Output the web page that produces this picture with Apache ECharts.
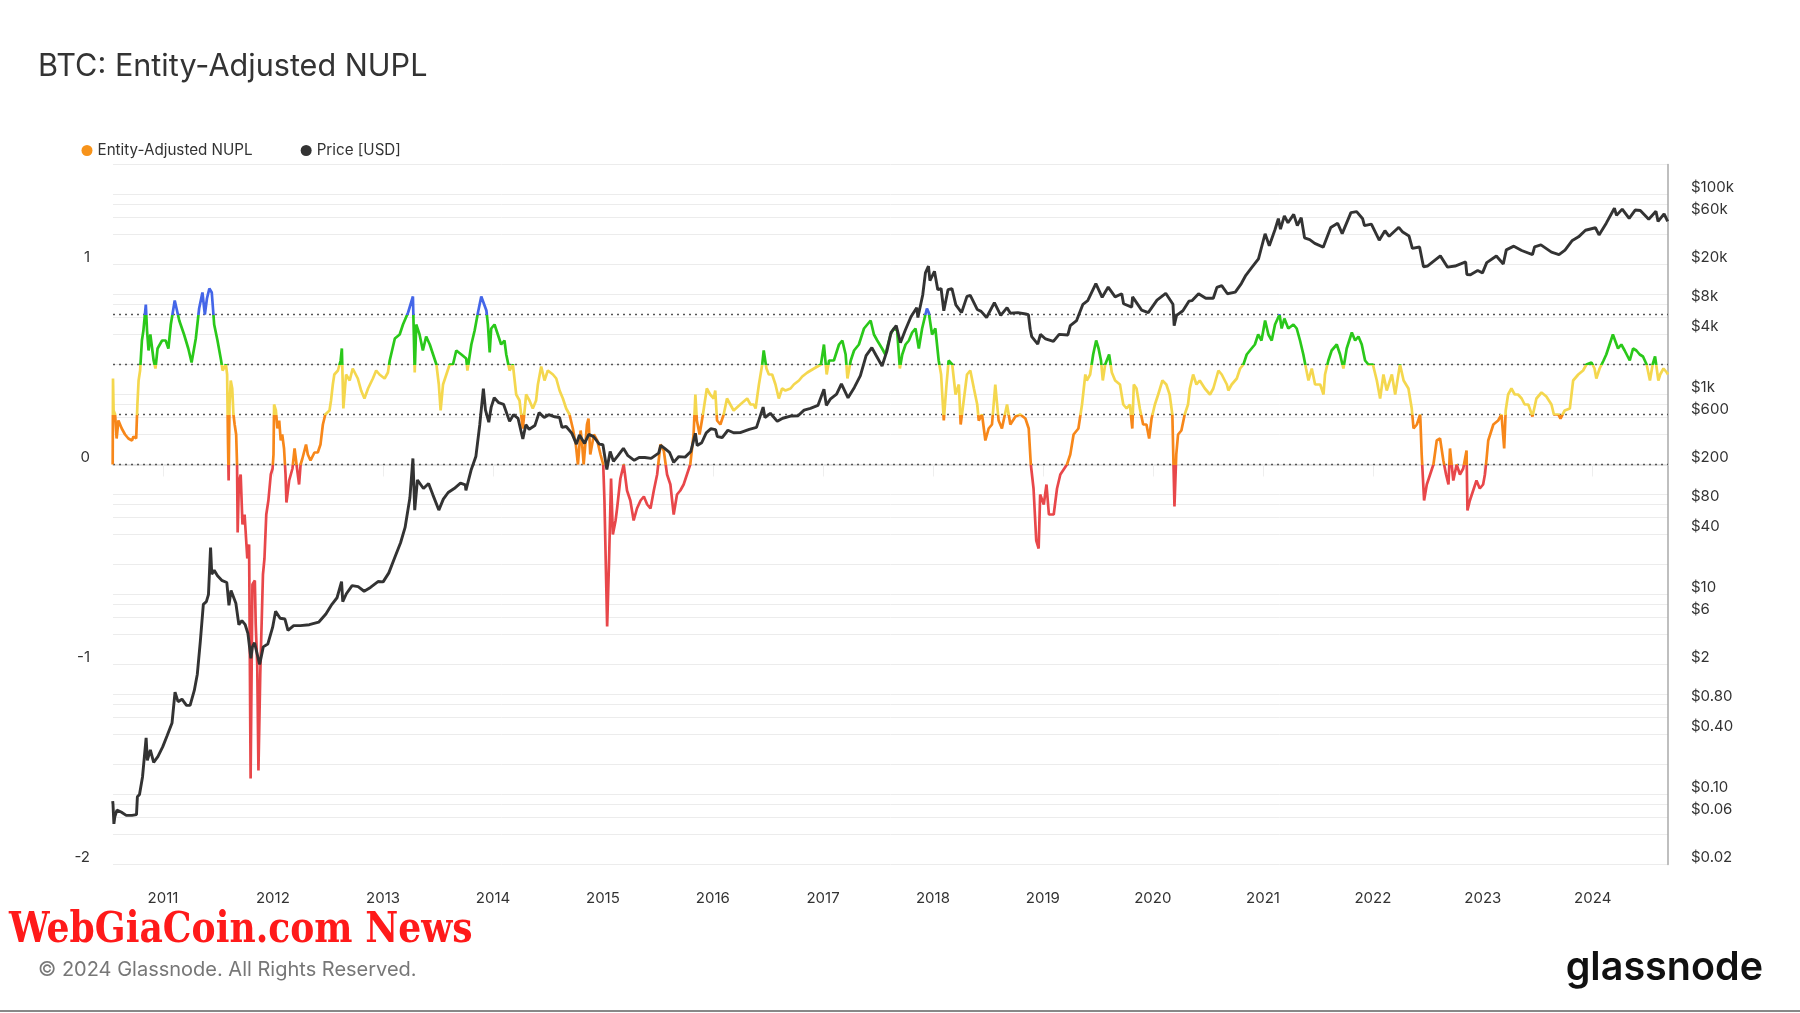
<!DOCTYPE html>
<html><head><meta charset="utf-8">
<script src="https://cdn.jsdelivr.net/npm/echarts@6/dist/echarts.min.js"></script>
<style>html,body{margin:0;padding:0;background:#fff}#c{width:1800px;height:1013px}</style>
</head><body><div id="c"></div>
<script>
// ---------- DATA ----------
const nuplDates = [
'2010-07-18','2010-07-19','2010-07-21','2010-07-26','2010-07-31','2010-08-06','2010-08-17','2010-08-28','2010-09-08','2010-09-20','2010-09-25','2010-10-04','2010-10-08','2010-10-12','2010-10-17','2010-10-23','2010-10-28','2010-11-05','2010-11-09','2010-11-14','2010-11-20','2010-12-01','2010-12-07','2010-12-14','2010-12-29',
'2011-01-10','2011-01-19','2011-01-27','2011-02-09','2011-02-24','2011-03-12','2011-03-26','2011-04-06','2011-04-20','2011-05-01','2011-05-12','2011-05-20','2011-05-27','2011-06-04','2011-06-12','2011-06-20','2011-07-01','2011-07-13','2011-07-18','2011-07-29','2011-08-02','2011-08-05','2011-08-07','2011-08-10','2011-08-14','2011-08-19','2011-08-23','2011-08-27','2011-09-01','2011-09-04','2011-09-06','2011-09-10','2011-09-16','2011-09-22','2011-09-29','2011-10-08','2011-10-14','2011-10-19','2011-10-25','2011-11-02','2011-11-05','2011-11-10','2011-11-14','2011-11-20','2011-11-29','2011-12-04','2011-12-10','2011-12-17','2011-12-25','2011-12-31',
'2012-01-03','2012-01-05','2012-01-11','2012-01-16','2012-01-22','2012-01-27','2012-02-01','2012-02-07','2012-02-12','2012-02-15','2012-02-24','2012-03-06','2012-03-13','2012-03-22','2012-03-28','2012-04-02','2012-04-08','2012-04-20','2012-04-26','2012-05-05','2012-05-18','2012-05-29','2012-06-07','2012-06-15','2012-06-23','2012-07-07','2012-07-12','2012-07-18','2012-07-23','2012-08-04','2012-08-13','2012-08-17','2012-08-22','2012-08-31','2012-09-12','2012-09-22','2012-10-09','2012-10-20','2012-10-31','2012-11-12','2012-11-28','2012-12-09','2012-12-20',
'2013-01-06','2013-01-17','2013-01-23','2013-02-09','2013-02-25','2013-03-08','2013-03-25','2013-04-10','2013-04-16','2013-04-21','2013-05-02','2013-05-13','2013-05-24','2013-06-05','2013-06-16','2013-06-27','2013-07-05','2013-07-11','2013-07-19','2013-07-30','2013-08-10','2013-08-21','2013-09-01','2013-09-18','2013-10-04','2013-10-08','2013-10-21','2013-11-01','2013-11-12','2013-11-23','2013-11-29','2013-12-10','2013-12-15','2013-12-21','2013-12-26',
'2014-01-06','2014-01-17','2014-01-28','2014-02-08','2014-02-14','2014-02-25','2014-03-08','2014-03-19','2014-03-30','2014-04-10','2014-04-21','2014-05-02','2014-05-13','2014-05-24','2014-05-30','2014-06-10','2014-06-21','2014-07-02','2014-07-19','2014-07-30','2014-08-10','2014-08-21','2014-09-01','2014-09-12','2014-09-23','2014-10-03','2014-10-10','2014-10-19','2014-10-24','2014-10-29','2014-11-09','2014-11-14','2014-11-20','2014-12-02','2014-12-13','2014-12-24',
'2015-01-02','2015-01-06','2015-01-15','2015-01-21','2015-01-28','2015-02-03','2015-02-12','2015-02-17','2015-02-28','2015-03-11','2015-03-22','2015-04-02','2015-04-13','2015-04-24','2015-05-06','2015-05-17','2015-05-28','2015-06-08','2015-06-19','2015-06-30','2015-07-11','2015-07-22','2015-08-02','2015-08-13','2015-08-24','2015-09-04','2015-09-15','2015-09-26','2015-10-07','2015-10-18','2015-10-29','2015-11-04','2015-11-09','2015-11-18','2015-11-29','2015-12-12','2015-12-23',
'2016-01-04','2016-01-09','2016-01-15','2016-01-26','2016-02-06','2016-02-17','2016-02-28','2016-03-10','2016-04-01','2016-04-24','2016-05-05','2016-05-16','2016-05-22','2016-06-02','2016-06-13','2016-06-18','2016-06-27','2016-07-05','2016-07-16','2016-07-27','2016-08-07','2016-08-18','2016-08-29','2016-09-15','2016-09-26','2016-10-13','2016-10-24','2016-11-10','2016-12-02','2016-12-25',
'2017-01-04','2017-01-13','2017-01-21','2017-02-06','2017-02-23','2017-03-06','2017-03-17','2017-03-23','2017-04-03','2017-04-14','2017-04-30','2017-05-17','2017-05-28','2017-06-08','2017-06-19','2017-06-30','2017-07-16','2017-07-27','2017-08-13','2017-08-24','2017-09-04','2017-09-13','2017-09-21','2017-10-02','2017-10-13','2017-10-24','2017-11-04','2017-11-15','2017-11-26','2017-12-07','2017-12-12','2017-12-18','2017-12-29',
'2018-01-09','2018-01-20','2018-01-28','2018-02-06','2018-02-15','2018-02-22','2018-03-06','2018-03-17','2018-03-28','2018-04-03','2018-04-14','2018-04-24','2018-05-05','2018-05-17','2018-05-28','2018-06-02','2018-06-13','2018-06-24','2018-07-05','2018-07-16','2018-07-27','2018-08-07','2018-08-18','2018-09-04','2018-09-15','2018-10-02','2018-10-18','2018-11-04','2018-11-15','2018-11-22','2018-12-01','2018-12-10','2018-12-18','2018-12-23',
'2019-01-04','2019-01-13','2019-01-21','2019-02-06','2019-02-17','2019-02-28','2019-03-22','2019-04-02','2019-04-13','2019-04-29','2019-05-11','2019-05-22','2019-05-27','2019-06-07','2019-06-17','2019-06-27','2019-07-05','2019-07-13','2019-07-19','2019-07-27','2019-08-09','2019-08-18','2019-08-29','2019-09-14','2019-09-25','2019-10-06','2019-10-17','2019-10-25','2019-10-30','2019-11-08','2019-11-19','2019-11-30','2019-12-11','2019-12-20','2019-12-28',
'2020-01-08','2020-01-19','2020-02-02','2020-02-15','2020-02-26','2020-03-06','2020-03-13','2020-03-19','2020-03-25','2020-04-05','2020-04-16','2020-04-27','2020-05-03','2020-05-14','2020-05-25','2020-06-05','2020-06-22','2020-07-09','2020-07-20','2020-08-06','2020-08-17','2020-09-03','2020-09-08','2020-09-19','2020-10-06','2020-10-17','2020-10-28','2020-11-08','2020-11-24','2020-12-05','2020-12-16','2020-12-27',
'2021-01-08','2021-01-19','2021-01-30','2021-02-10','2021-02-25','2021-03-04','2021-03-13','2021-03-26','2021-04-12','2021-04-23','2021-05-04','2021-05-15','2021-05-24','2021-06-01','2021-06-12','2021-06-23','2021-07-10','2021-07-21','2021-07-26','2021-08-06','2021-08-17','2021-09-03','2021-09-14','2021-09-25','2021-10-06','2021-10-23','2021-11-03','2021-11-14','2021-11-25','2021-12-06','2021-12-17',
'2022-01-01','2022-01-14','2022-01-25','2022-02-05','2022-02-16','2022-03-05','2022-03-16','2022-04-01','2022-04-13','2022-04-29','2022-05-10','2022-05-16','2022-05-27','2022-06-07','2022-06-12','2022-06-20','2022-06-29','2022-07-10','2022-07-21','2022-08-01','2022-08-12','2022-08-23','2022-09-01','2022-09-09','2022-09-14','2022-09-25','2022-10-06','2022-10-17','2022-10-28','2022-11-08','2022-11-11','2022-11-19','2022-11-30','2022-12-11','2022-12-22',
'2023-01-02','2023-01-08','2023-01-13','2023-01-19','2023-02-05','2023-02-21','2023-03-04','2023-03-13','2023-03-18','2023-03-26','2023-04-06','2023-04-17','2023-04-28','2023-05-10','2023-05-20','2023-06-01','2023-06-15','2023-06-28','2023-07-15','2023-07-31','2023-08-17','2023-08-25','2023-09-09','2023-09-16','2023-09-30','2023-10-17','2023-10-28','2023-11-14','2023-11-30','2023-12-11','2023-12-28',
'2024-01-07','2024-01-13','2024-01-24','2024-02-06','2024-02-15','2024-02-26','2024-03-08','2024-03-14','2024-03-25','2024-04-05','2024-04-16','2024-05-03','2024-05-14','2024-05-25','2024-06-05','2024-06-16','2024-06-28','2024-07-09','2024-07-18','2024-07-26','2024-08-06','2024-08-12','2024-08-23','2024-09-03','2024-09-07'
];
const nuplValues = [
0.00,0.43,0.27,0.25,0.13,0.22,0.18,0.15,0.13,0.12,0.14,0.13,0.30,0.42,0.47,0.62,0.67,0.80,0.67,0.57,0.65,0.52,0.48,0.58,0.62,
0.62,0.58,0.70,0.82,0.72,0.65,0.58,0.51,0.63,0.78,0.86,0.75,0.83,0.88,0.86,0.70,0.62,0.52,0.47,0.50,0.45,0.10,-0.08,0.30,0.42,0.38,0.25,0.20,0.15,0.00,-0.34,-0.09,-0.05,-0.30,-0.25,-0.47,-0.40,-1.57,-0.60,-0.58,-0.80,-1.00,-1.53,-1.05,-0.55,-0.47,-0.25,-0.18,-0.05,-0.02,
0.05,0.30,0.27,0.18,0.22,0.12,0.15,0.08,-0.05,-0.19,-0.08,-0.02,0.08,-0.03,-0.10,0.00,0.03,0.10,0.05,0.02,0.06,0.06,0.10,0.20,0.25,0.27,0.32,0.40,0.45,0.47,0.52,0.58,0.28,0.45,0.42,0.48,0.43,0.37,0.33,0.38,0.43,0.47,0.45,
0.43,0.46,0.52,0.63,0.65,0.70,0.76,0.84,0.46,0.70,0.65,0.57,0.64,0.60,0.55,0.50,0.40,0.27,0.40,0.45,0.50,0.50,0.57,0.55,0.53,0.47,0.60,0.67,0.76,0.84,0.85,0.77,0.70,0.56,0.68,
0.70,0.65,0.60,0.62,0.55,0.47,0.50,0.35,0.32,0.18,0.35,0.32,0.28,0.32,0.40,0.49,0.42,0.47,0.45,0.43,0.37,0.33,0.28,0.25,0.18,0.10,0.00,0.17,0.10,0.00,0.20,0.23,0.05,0.15,0.12,0.05,
0.00,-0.18,-0.81,-0.50,-0.07,-0.35,-0.28,-0.22,-0.07,0.00,-0.13,-0.18,-0.28,-0.22,-0.18,-0.16,-0.20,-0.22,-0.13,-0.05,0.10,0.07,-0.05,-0.10,-0.25,-0.15,-0.13,-0.10,-0.05,0.00,0.15,0.35,0.22,0.15,0.25,0.38,0.35,
0.33,0.37,0.22,0.20,0.25,0.33,0.30,0.27,0.30,0.33,0.30,0.30,0.28,0.40,0.50,0.57,0.48,0.45,0.45,0.40,0.33,0.38,0.37,0.38,0.40,0.42,0.44,0.46,0.48,0.50,
0.60,0.45,0.52,0.52,0.60,0.62,0.55,0.43,0.52,0.57,0.60,0.68,0.70,0.72,0.65,0.62,0.58,0.55,0.65,0.68,0.67,0.48,0.55,0.60,0.62,0.66,0.68,0.58,0.68,0.75,0.78,0.76,0.65,
0.68,0.52,0.45,0.22,0.40,0.52,0.50,0.35,0.40,0.20,0.33,0.45,0.47,0.38,0.30,0.22,0.25,0.12,0.18,0.20,0.40,0.22,0.18,0.30,0.20,0.24,0.25,0.23,0.18,0.00,-0.12,-0.38,-0.42,-0.15,
-0.20,-0.10,-0.25,-0.25,-0.12,-0.05,0.00,0.05,0.15,0.18,0.30,0.45,0.42,0.45,0.55,0.62,0.58,0.52,0.42,0.50,0.55,0.46,0.42,0.40,0.30,0.28,0.30,0.18,0.40,0.38,0.28,0.20,0.20,0.13,0.23,
0.30,0.35,0.42,0.40,0.35,0.25,-0.21,0.05,0.15,0.17,0.25,0.30,0.38,0.45,0.40,0.42,0.38,0.35,0.38,0.47,0.45,0.40,0.37,0.40,0.43,0.48,0.50,0.55,0.58,0.60,0.65,0.62,
0.72,0.65,0.62,0.70,0.75,0.68,0.73,0.68,0.70,0.68,0.62,0.55,0.48,0.42,0.48,0.40,0.40,0.35,0.45,0.52,0.57,0.60,0.55,0.48,0.58,0.66,0.62,0.64,0.60,0.52,0.50,
0.50,0.42,0.33,0.45,0.37,0.45,0.35,0.50,0.42,0.38,0.28,0.18,0.20,0.25,0.05,-0.18,-0.10,-0.05,0.00,0.12,0.13,0.02,-0.05,-0.10,0.08,-0.08,0.00,-0.05,-0.02,0.07,-0.23,-0.18,-0.13,-0.08,-0.12,
-0.10,-0.05,0.02,0.12,0.20,0.22,0.25,0.08,0.27,0.35,0.38,0.35,0.35,0.33,0.30,0.30,0.24,0.33,0.36,0.34,0.30,0.25,0.25,0.23,0.27,0.28,0.42,0.45,0.47,0.50,0.51,
0.48,0.43,0.48,0.52,0.55,0.60,0.65,0.64,0.58,0.60,0.57,0.52,0.58,0.57,0.55,0.54,0.50,0.42,0.50,0.54,0.42,0.45,0.48,0.46,0.45
];

const priceDates = [
'2010-07-18','2010-07-19','2010-07-22','2010-07-25','2010-08-01','2010-08-15','2010-09-01','2010-09-20','2010-10-05','2010-10-08','2010-10-15','2010-10-25','2010-11-06','2010-11-10','2010-11-20','2010-12-01','2010-12-15','2010-12-31',
'2011-01-15','2011-01-31','2011-02-10','2011-02-20','2011-03-05','2011-03-20','2011-04-01','2011-04-15','2011-04-25','2011-05-05','2011-05-15','2011-05-25','2011-06-01','2011-06-08','2011-06-12','2011-06-20','2011-07-01','2011-07-15','2011-08-01','2011-08-08','2011-08-15','2011-08-31','2011-09-10','2011-09-20','2011-10-01','2011-10-10','2011-10-20','2011-10-25','2011-11-01','2011-11-18','2011-11-30','2011-12-15','2011-12-31',
'2012-01-10','2012-01-25','2012-02-10','2012-02-20','2012-03-10','2012-04-01','2012-05-01','2012-06-01','2012-06-25','2012-07-15','2012-08-01','2012-08-16','2012-08-20','2012-09-01','2012-09-20','2012-10-10','2012-10-30','2012-11-20','2012-12-15',
'2013-01-01','2013-01-20','2013-02-10','2013-02-28','2013-03-15','2013-03-31','2013-04-10','2013-04-16','2013-04-25','2013-05-15','2013-06-01','2013-06-15','2013-07-05','2013-07-20','2013-08-05','2013-08-25','2013-09-15','2013-10-01','2013-10-03','2013-10-20','2013-11-05','2013-11-18','2013-11-30','2013-12-07','2013-12-18','2013-12-26',
'2014-01-05','2014-01-20','2014-02-05','2014-02-25','2014-03-10','2014-03-25','2014-04-10','2014-04-20','2014-05-01','2014-05-20','2014-06-03','2014-06-20','2014-07-05','2014-07-25','2014-08-10','2014-08-18','2014-09-01','2014-09-20','2014-10-05','2014-10-15','2014-11-01','2014-11-15','2014-12-01','2014-12-20',
'2015-01-01','2015-01-14','2015-01-25','2015-02-05','2015-02-20','2015-03-10','2015-03-25','2015-04-15','2015-05-01','2015-05-20','2015-06-10','2015-07-05','2015-07-12','2015-07-25','2015-08-10','2015-08-24','2015-09-10','2015-10-01','2015-10-20','2015-11-04','2015-11-10','2015-11-25','2015-12-10','2015-12-25',
'2016-01-10','2016-01-16','2016-02-01','2016-02-20','2016-03-10','2016-04-01','2016-05-01','2016-05-25','2016-06-16','2016-06-22','2016-07-10','2016-08-02','2016-08-20','2016-09-15','2016-10-10','2016-10-30','2016-11-20','2016-12-15',
'2017-01-04','2017-01-12','2017-01-25','2017-02-15','2017-03-03','2017-03-25','2017-04-15','2017-05-05','2017-05-24','2017-06-12','2017-06-25','2017-07-16','2017-08-01','2017-08-15','2017-09-01','2017-09-15','2017-10-01','2017-10-20','2017-11-08','2017-11-12','2017-11-28','2017-12-07','2017-12-17','2017-12-22',
'2018-01-06','2018-01-17','2018-01-28','2018-02-06','2018-02-20','2018-03-05','2018-03-18','2018-04-06','2018-04-24','2018-05-05','2018-05-28','2018-06-10','2018-06-28','2018-07-24','2018-08-14','2018-09-04','2018-09-15','2018-10-10','2018-11-05','2018-11-14','2018-11-20','2018-11-25','2018-12-15','2018-12-24',
'2019-01-10','2019-02-05','2019-02-24','2019-03-25','2019-04-02','2019-04-23','2019-05-14','2019-05-30','2019-06-26','2019-07-17','2019-08-06','2019-08-29','2019-09-20','2019-09-26','2019-10-23','2019-10-26','2019-11-25','2019-12-17',
'2020-01-15','2020-02-13','2020-03-08','2020-03-12','2020-03-20','2020-04-10','2020-04-30','2020-05-10','2020-06-01','2020-06-25','2020-07-20','2020-08-01','2020-08-17','2020-09-05','2020-10-01','2020-10-21','2020-11-05','2020-11-25','2020-12-17',
'2021-01-08','2021-01-22','2021-02-10','2021-02-21','2021-02-28','2021-03-13','2021-03-25','2021-04-13','2021-04-25','2021-05-08','2021-05-19','2021-06-05','2021-06-22','2021-07-20','2021-08-14','2021-09-06','2021-09-21','2021-10-20','2021-11-08','2021-11-28','2021-12-04','2021-12-27',
'2022-01-22','2022-02-10','2022-02-24','2022-03-28','2022-04-10','2022-05-01','2022-05-12','2022-06-05','2022-06-18','2022-07-01','2022-08-13','2022-09-06','2022-10-01','2022-11-05','2022-11-09','2022-11-21','2022-12-15','2022-12-31',
'2023-01-14','2023-02-15','2023-03-10','2023-03-20','2023-04-14','2023-05-10','2023-06-15','2023-06-22','2023-07-13','2023-08-17','2023-09-11','2023-10-01','2023-10-24','2023-11-15','2023-12-08',
'2024-01-10','2024-01-22','2024-02-15','2024-03-13','2024-03-20','2024-04-08','2024-05-01','2024-05-21','2024-06-07','2024-07-05','2024-07-29','2024-08-05','2024-08-25','2024-09-06','2024-09-07'
];
const priceValues = [
0.086,0.08,0.051,0.06,0.07,0.067,0.062,0.062,0.063,0.095,0.10,0.15,0.37,0.22,0.28,0.21,0.24,0.30,
0.39,0.52,1.06,0.85,0.90,0.78,0.78,1.10,1.60,3.4,8.0,8.5,10,29.6,16,17.5,15.4,13.9,13.2,7.8,11,8.2,5.0,5.5,5.0,4.1,2.3,3.0,3.3,2.0,3.0,3.2,4.7,
6.8,5.8,5.7,4.4,4.9,4.9,5.0,5.3,6.4,8.0,9.3,13.5,8.5,10.2,12.3,12.0,10.8,11.8,13.5,
13.4,16.5,24,33,47,93,230,70,140,115,129,100,70,90,105,115,130,125,110,175,240,500,1150,700,530,750,
930,830,800,540,630,580,360,500,450,490,660,590,630,600,590,470,480,410,320,395,325,400,380,320,
315,178,270,215,245,290,245,220,235,235,230,260,310,290,265,210,240,237,270,410,310,330,415,455,
447,380,372,440,415,417,450,470,750,590,650,540,580,610,615,700,730,780,
1130,780,900,1010,1280,930,1180,1550,2450,2950,2500,1930,2720,4200,4900,3300,4400,6000,7400,5900,9900,16500,19300,13800,
17100,11200,11500,6900,11200,11500,7900,6600,9600,9800,7100,6800,5900,8300,6200,7400,6500,6600,6400,6300,4500,3800,3200,4000,
3600,3400,4000,3950,4900,5500,8000,8700,12900,9400,11900,9500,10200,8100,7500,9500,7000,6600,
8800,10300,8000,4900,6200,6900,8600,8700,10200,9200,9200,11800,12300,10200,10600,12900,15600,18700,22800,
40600,30800,44800,57500,45200,61200,52300,63500,49000,58800,37000,35500,32500,29800,47000,51700,40700,66000,67500,57300,49000,50700,
35000,43500,38300,47100,42200,38500,29000,29900,19000,19300,24400,18800,19300,21200,15900,15800,17400,16500,
20900,24300,20200,28000,30500,27600,25100,30000,31400,26600,25100,27900,34500,37800,44000,
46600,39500,51800,73100,62000,71600,57800,70100,69300,56700,68200,54000,64200,54000,54800
];

// axis / reference values
const xStart = '2010-07-19';
const xEnd = '2024-09-07';
const nuplThresholds = [0, 0.25, 0.5, 0.75];
const priceGridValues = [0.02,0.04,0.06,0.08,0.1,0.2,0.4,0.6,0.8,1,2,4,6,8,10,20,40,60,80,100,200,400,600,800,1000,2000,4000,6000,8000,10000,20000,40000,60000,80000,100000,200000];
const priceLabelValues = [0.02,0.06,0.1,0.4,0.8,2,6,10,40,80,200,600,1000,4000,8000,20000,60000,100000];

// ---------- CHART ----------
const nuplData = nuplDates.map((d, i) => [d, nuplValues[i]]);
const priceData = priceDates.map((d, i) => [d, priceValues[i]]);

function fmtPrice(v) {
  if (v >= 1000) return '$' + Math.round(v / 1000) + 'k';
  if (v >= 1) return '$' + Math.round(v);
  return '$' + v.toFixed(2);
}

const FONT = 'Inter';
const chart = echarts.init(document.getElementById('c'), null, {renderer: 'canvas'});

const option = {
  animation: false,
  backgroundColor: '#ffffff',
  textStyle: {fontFamily: FONT},
  title: {
    text: 'BTC: Entity-Adjusted NUPL',
    left: 38, top: 51.5, padding: 0,
    textStyle: {fontFamily: FONT, fontSize: 30.6, fontWeight: 'normal', color: '#333333'}
  },
  legend: {
    left: 81.5, top: 143, padding: 0,
    itemWidth: 11, itemHeight: 11, itemGap: 48, icon: 'circle',
    textStyle: {fontFamily: FONT, fontSize: 15.2, color: '#333333'},
    data: [
      {name: 'Entity-Adjusted NUPL', itemStyle: {color: '#f7931a'}},
      {name: 'Price [USD]', itemStyle: {color: '#333333'}}
    ]
  },
  grid: {left: 113, right: 132, top: 164.5, bottom: 148.5},
  xAxis: {
    type: 'time', min: xStart, max: xEnd,
    splitNumber: 14,
    minInterval: 365 * 24 * 3600 * 1000,
    maxInterval: 366 * 24 * 3600 * 1000,
    axisLine: {show: true, lineStyle: {color: '#dddddd', width: 1.5}},
    axisTick: {show: true, length: 12, lineStyle: {color: '#eeeeee'}},
    splitLine: {show: false},
    axisLabel: {
      margin: 26.5, fontSize: 15, color: '#333333', fontFamily: FONT,
      formatter: function (v) {
        const d = new Date(v);
        return (d.getMonth() === 0 && d.getDate() === 1) ? String(d.getFullYear()) : '';
      }
    }
  },
  yAxis: [
    {
      type: 'value', min: -2, max: 1.5, interval: 1, position: 'left',
      axisLine: {show: false}, axisTick: {show: false}, splitLine: {show: false},
      axisLabel: {showMaxLabel: false, margin: 23, fontSize: 15, color: '#333333', fontFamily: FONT, verticalAlign: 'bottom', lineHeight: 15}
    },
    {
      type: 'log', logBase: 10, min: 0.02, max: 200000, position: 'right',
      axisLine: {show: true, lineStyle: {color: '#aaaaaa', width: 1.5}},
      axisTick: {show: false}, axisLabel: {show: false}, splitLine: {show: false}
    }
  ],
  visualMap: {
    type: 'piecewise', show: false, seriesIndex: 0, dimension: 1,
    pieces: [
      {lt: 0, color: '#e8474a'},
      {gte: 0, lt: 0.25, color: '#f7871a'},
      {gte: 0.25, lt: 0.5, color: '#f4d74e'},
      {gte: 0.5, lt: 0.75, color: '#2ac81a'},
      {gte: 0.75, color: '#4466e8'}
    ]
  },
  series: [
    {
      name: 'Entity-Adjusted NUPL', type: 'line', yAxisIndex: 0,
      data: nuplData, symbol: 'none', showSymbol: false,
      lineStyle: {width: 2.7},
      itemStyle: {color: '#f7931a'},
      markLine: {
        silent: true, z: 1, symbol: ['none', 'none'], animation: false,
        lineStyle: {type: [2, 4], color: '#555555', width: 1.3},
        label: {show: false},
        data: nuplThresholds.map(v => ({yAxis: v}))
      }
    },
    {
      name: 'Price [USD]', type: 'line', yAxisIndex: 1,
      data: priceData, symbol: 'none', showSymbol: false,
      lineStyle: {width: 2.9, color: '#333333'},
      itemStyle: {color: '#333333'},
      markLine: {
        silent: true, z: 0, symbol: ['none', 'none'], animation: false,
        lineStyle: {type: 'solid', color: '#ececec', width: 1},
        label: {
          show: true, position: 'end', distance: [23, 0],
          fontFamily: FONT, fontSize: 15, color: '#333333',
          verticalAlign: 'bottom', lineHeight: 15,
          formatter: p => fmtPrice(p.value)
        },
        data: priceGridValues.map(v => ({yAxis: v, label: {show: priceLabelValues.indexOf(v) >= 0}}))
      }
    }
  ],
  graphic: [
    {type: 'text', x: 9, y: 909, scaleX: 0.85, z: 100,
     style: {text: 'WebGiaCoin.com News', fontFamily: 'DejaVu Serif', fontWeight: 'bold', fontSize: 42.5, fill: '#ff1a1a', textVerticalAlign: 'top'}},
    {type: 'text', left: 38, top: 960, z: 100,
     style: {text: '\u00a9 2024 Glassnode. All Rights Reserved.', fontFamily: FONT, fontSize: 20, fill: '#777777'}},
    {type: 'text', right: 37, top: 948.5, z: 100,
     style: {text: 'glassnode', fontFamily: FONT, fontWeight: 600, fontSize: 39.5, fill: '#111111'}},
    {type: 'rect', left: 0, top: 1010, z: 100, shape: {width: 1800, height: 2}, style: {fill: '#888888'}}
  ]
};
chart.setOption(option);
</script>
</body></html>
